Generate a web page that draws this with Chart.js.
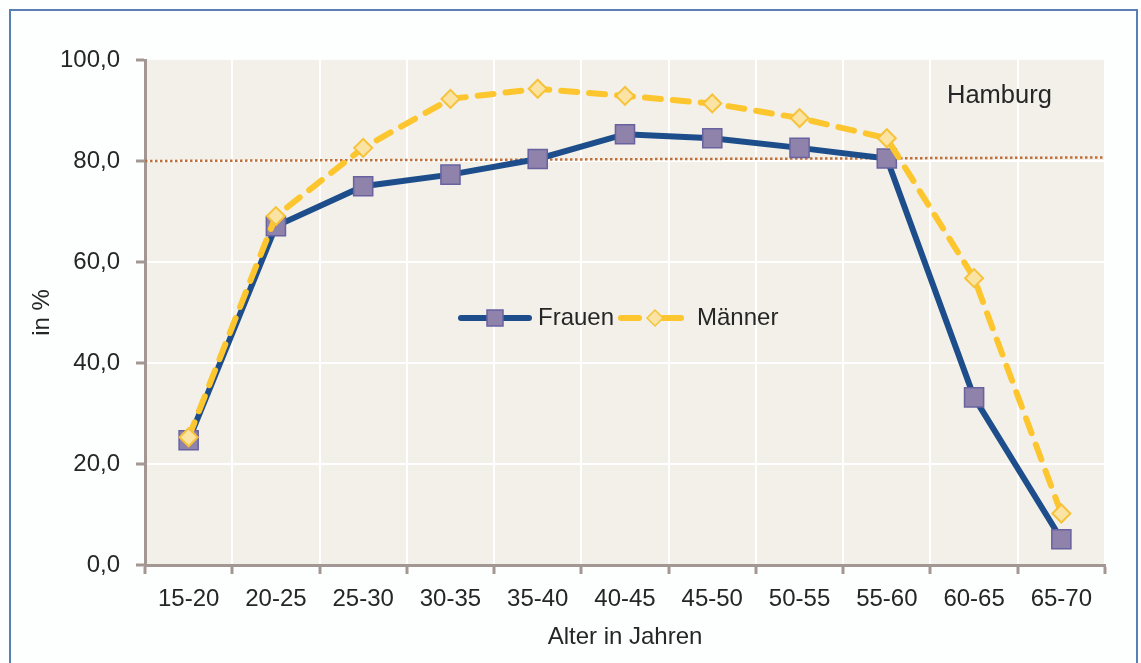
<!DOCTYPE html>
<html lang="de">
<head>
<meta charset="utf-8">
<title>Erwerbsbeteiligung Hamburg</title>
<script src="https://cdn.jsdelivr.net/npm/chart.js@4.4.1/dist/chart.umd.min.js"></script>
<style>
  html, body { margin: 0; padding: 0; background: #fdfefe; }
  body { width: 1141px; height: 663px; position: relative; overflow: hidden; }
  #rahmen {
    position: absolute; left: 9px; top: 9px;
    width: 1125px; height: 700px;
    border: 2px solid #5a7fb4;
  }
  #chart { position: absolute; left: 0; top: 0; }
</style>
</head>
<body>
<div id="rahmen"></div>
<canvas id="chart" width="1141" height="663"></canvas>
<script>
// Altersgruppen (x-Achse)
const altersgruppen = ['15-20', '20-25', '25-30', '30-35', '35-40', '40-45',
                       '45-50', '50-55', '55-60', '60-65', '65-70'];

// Werte in %
const frauen = [24.7, 67.1, 75.0, 77.3, 80.4, 85.3, 84.5, 82.6, 80.5, 33.2, 5.1];
const maenner = [25.3, 69.1, 82.6, 92.3, 94.3, 92.9, 91.4, 88.5, 84.5, 56.8, 10.2];

// gepunktete Linie (Anfang / Ende)
const zielLinie = [80.0, 80.7];

// y-Achse
const yTicks = [0, 20, 40, 60, 80, 100];

const schrift = '"Liberation Sans", Arial, sans-serif';
const achsenFarbe = '#a39793';
const textFarbe = '#262626';

// Hintergrund der Zeichenfläche
const hintergrund = {
    id: 'hintergrund',
    beforeDraw(chart) {
        const { ctx, chartArea: a } = chart;
        ctx.save();
        ctx.fillStyle = '#f2f0e8';
        ctx.fillRect(a.left, a.top, a.right - a.left, a.bottom - a.top);
        ctx.restore();
    }
};

// gepunktete Referenzlinie
const referenz = {
    id: 'referenz',
    beforeDatasetsDraw(chart) {
        const { ctx, chartArea: a, scales } = chart;
        ctx.save();
        ctx.strokeStyle = '#bf6f3a';
        ctx.lineWidth = 2.5;
        ctx.setLineDash([2.5, 2.5]);
        ctx.beginPath();
        ctx.moveTo(a.left, scales.y.getPixelForValue(zielLinie[0]));
        ctx.lineTo(a.right, scales.y.getPixelForValue(zielLinie[1]));
        ctx.stroke();
        ctx.restore();
    }
};

// Legende in der Mitte und Titel "Hamburg"
const legendeInnen = {
    id: 'legendeInnen',
    afterDatasetsDraw(chart) {
        const { ctx, chartArea: a } = chart;
        const y = 318;
        ctx.save();
        ctx.font = '24px ' + schrift;
        ctx.fillStyle = textFarbe;
        ctx.textBaseline = 'middle';

        // Frauen
        ctx.strokeStyle = '#1d4e8b';
        ctx.lineWidth = 6;
        ctx.lineCap = 'round';
        ctx.beginPath();
        ctx.moveTo(461, y);
        ctx.lineTo(529, y);
        ctx.stroke();
        ctx.fillStyle = '#8f82ab';
        ctx.strokeStyle = '#6862a0';
        ctx.lineWidth = 1.5;
        ctx.fillRect(487, y - 8, 16, 16);
        ctx.strokeRect(487, y - 8, 16, 16);
        ctx.fillStyle = textFarbe;
        ctx.fillText(chart.data.datasets[0].label, 538, y);

        // Männer
        ctx.strokeStyle = '#fdc62f';
        ctx.lineWidth = 6;
        ctx.beginPath();
        ctx.moveTo(621, y);
        ctx.lineTo(639, y);
        ctx.moveTo(663, y);
        ctx.lineTo(681, y);
        ctx.stroke();
        ctx.fillStyle = '#fbe3a3';
        ctx.strokeStyle = '#f6c23a';
        ctx.lineWidth = 1.5;
        ctx.beginPath();
        ctx.moveTo(655, y - 8);
        ctx.lineTo(663, y);
        ctx.lineTo(655, y + 8);
        ctx.lineTo(647, y);
        ctx.closePath();
        ctx.fill();
        ctx.stroke();
        ctx.fillStyle = textFarbe;
        ctx.fillText(chart.data.datasets[1].label, 697, y);

        // Titel
        ctx.font = '25.5px ' + schrift;
        ctx.textBaseline = 'alphabetic';
        ctx.fillText('Hamburg', a.right - 158, a.top + 43);
        ctx.restore();
    }
};

new Chart(document.getElementById('chart'), {
    type: 'line',
    data: {
        labels: altersgruppen,
        datasets: [
            {
                label: 'Frauen',
                data: frauen,
                borderColor: '#1d4e8b',
                borderWidth: 6,
                pointStyle: 'rect',
                pointRadius: 13.5,
                pointBackgroundColor: '#8f82ab',
                pointBorderColor: '#6862a0',
                pointBorderWidth: 1.5,
                tension: 0,
                order: 1
            },
            {
                label: 'Männer',
                data: maenner,
                borderColor: '#fdc62f',
                borderWidth: 6,
                borderDash: [16, 12],
                borderCapStyle: 'round',
                pointStyle: 'rectRot',
                pointRadius: 9,
                pointBackgroundColor: '#fbe3a3',
                pointBorderColor: '#f6c23a',
                pointBorderWidth: 2,
                tension: 0,
                order: 0
            }
        ]
    },
    options: {
        responsive: false,
        animation: false,
        devicePixelRatio: 1,
        layout: { padding: { left: 0, top: 60, right: 36, bottom: 0 } },
        plugins: {
            legend: { display: false },
            tooltip: { enabled: false }
        },
        scales: {
            x: {
                offset: true,
                grid: {
                    offset: true,
                    color: '#ffffff',
                    lineWidth: 2,
                    tickColor: achsenFarbe,
                    tickWidth: 3,
                    tickLength: 9
                },
                border: { color: achsenFarbe, width: 3 },
                ticks: {
                    color: textFarbe,
                    font: { family: schrift, size: 24 },
                    padding: 11,
                    maxRotation: 0
                },
                title: {
                    display: true,
                    text: 'Alter in Jahren',
                    color: textFarbe,
                    font: { family: schrift, size: 24 },
                    padding: { top: 0, bottom: 11 }
                },
                afterFit(s) { s.height = 98; }
            },
            y: {
                min: 0,
                max: 100,
                afterBuildTicks(s) { s.ticks = yTicks.map(v => ({ value: v })); },
                grid: {
                    color: c => (c.tick && c.tick.value > 0 && c.tick.value < 100) ? '#ffffff' : 'rgba(0,0,0,0)',
                    lineWidth: 2,
                    tickColor: achsenFarbe,
                    tickWidth: 3,
                    tickLength: 9
                },
                border: { color: achsenFarbe, width: 3 },
                ticks: {
                    color: textFarbe,
                    font: { family: schrift, size: 24 },
                    padding: 16,
                    callback: v => v.toFixed(1).replace('.', ',')
                },
                title: {
                    display: true,
                    text: 'in %',
                    color: textFarbe,
                    font: { family: schrift, size: 24 },
                    padding: { top: 28, bottom: 0 }
                },
                afterFit(s) { s.width = 145; }
            }
        }
    },
    plugins: [hintergrund, referenz, legendeInnen]
});
</script>
</body>
</html>
